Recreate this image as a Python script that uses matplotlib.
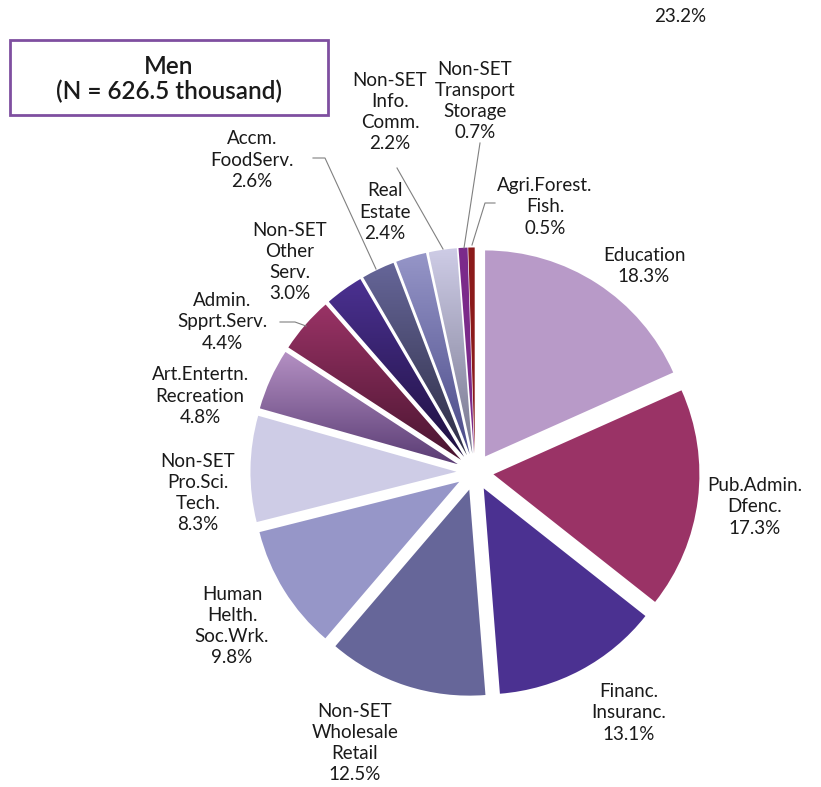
import numpy as np
import matplotlib.pyplot as plt
from matplotlib.colors import LinearSegmentedColormap
from matplotlib.patches import Rectangle

plt.rcParams['font.family'] = ['Lato', 'DejaVu Sans']

# sectors, clockwise from 12 o'clock
sectors = ['Education', 'Pub.Admin.\nDfenc.', 'Financ.\nInsuranc.',
           'Non-SET\nWholesale\nRetail', 'Human\nHelth.\nSoc.Wrk.',
           'Non-SET\nPro.Sci.\nTech.', 'Art.Entertn.\nRecreation',
           'Admin.\nSpprt.Serv.', 'Non-SET\nOther\nServ.', 'Accm.\nFoodServ.',
           'Real\nEstate', 'Non-SET\nInfo.\nComm.', 'Non-SET\nTransport\nStorage',
           'Agri.Forest.\nFish.']
shares = [18.3, 17.3, 13.1, 12.5, 9.8, 8.3, 4.8, 4.4, 3.0, 2.6, 2.4, 2.2, 0.7, 0.5]

colors = ['#b89ac8', '#9a3366', '#4b3191', '#666699', '#9696c8', '#cecce6',
          '#b591c4', '#9a3366', '#4b3191', '#666699', '#9696c8', '#cecce6',
          '#7b2a8a', '#8b1a1a']
# darker end of the shaded small sectors (None = flat fill)
shade = [None, None, None, None, None, None,
         '#5a3c74', '#4a1530', '#1e1040', '#2e2e45', '#4a4a88', '#77778f',
         None, None]

# layout in pixels
W, H = 821, 787
CX, CY, R = 475, 472, 206

# label block centres (pixels)
label_xy = [(644, 266), (755, 507), (629, 713), (355, 743), (232, 626),
            (198, 493), (200, 396), (222, 322), (290, 262), (252, 160),
            (385, 212), (390, 112), (475, 101), (545, 207)]


def px(x, y):
    return (x - CX) / R, (CY - y) / R


fig = plt.figure(figsize=(W / 100, H / 100), dpi=100)
ax = fig.add_axes([0, 0, 1, 1])

wedges, _ = ax.pie(shares, colors=colors, startangle=90, counterclock=False,
                   explode=[0.09] * len(shares), radius=1,
                   wedgeprops=dict(linewidth=0))

grad = np.linspace(0, 1, 256).reshape(-1, 1)
for w, top, dark in zip(wedges, colors, shade):
    if dark is None:
        continue
    bb = w.get_path().get_extents()
    cmap = LinearSegmentedColormap.from_list('sh', [dark, top])
    im = ax.imshow(grad, cmap=cmap, origin='lower', aspect='auto',
                   extent=[bb.x0, bb.x1, bb.y0, bb.y1], zorder=w.get_zorder())
    im.set_clip_path(w)
    w.set_facecolor('none')

for name, val, (lx, ly) in zip(sectors, shares, label_xy):
    ax.text(*px(lx, ly), f'{name}\n{val:.1f}%', ha='center', va='center',
            fontsize=13.5, color='#1a1a1a', linespacing=1.3)

# leader lines
leaders = [
    [(313, 158), (325, 158), (376, 269)],   # Accm.
    [(397, 168), (443, 249)],               # Info.
    [(480, 143), (464, 248)],               # Transport
    [(495, 203), (485, 203), (472, 245)],   # Agri.
    [(280, 322), (295, 322), (306, 326)],   # Admin.
]
for pts in leaders:
    xs, ys = zip(*[px(x, y) for x, y in pts])
    ax.plot(xs, ys, color='#808080', lw=0.8, zorder=1)

ax.text(*px(680, 17), '23.2%', ha='center', va='center', fontsize=13.5,
        color='#1a1a1a')

# title box
x0, y0 = px(10, 115)
x1, y1 = px(328, 40)
ax.add_patch(Rectangle((x0, y0), x1 - x0, y1 - y0, fill=False,
                       edgecolor='#7f4fa0', lw=2))
ax.text(*px(169, 79), 'Men\n(N = 626.5 thousand)', ha='center', va='center',
        fontsize=17.5, fontweight='semibold', color='#1a1a1a', linespacing=1.1)

ax.set_xlim(px(0, 0)[0], px(W, 0)[0])
ax.set_ylim(px(0, H)[1], px(0, 0)[1])
ax.axis('off')

fig.savefig('out.png', dpi=100)
